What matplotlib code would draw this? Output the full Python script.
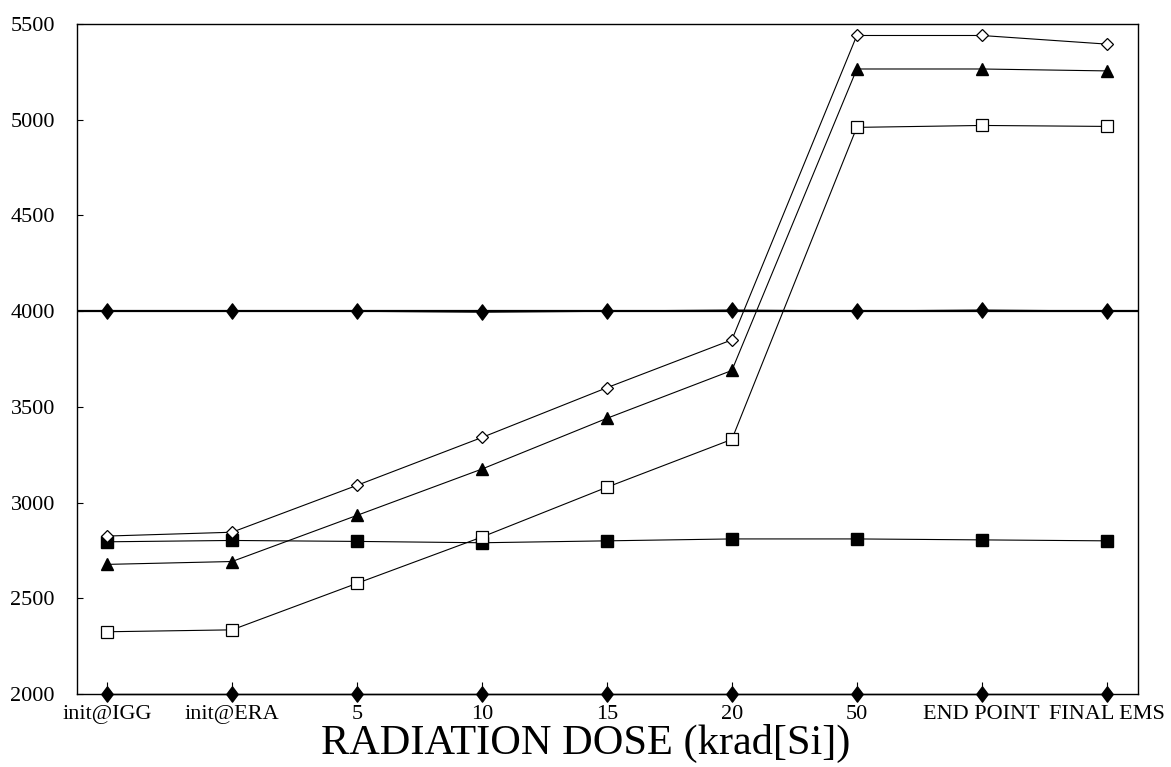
import matplotlib
matplotlib.use("Agg")
import matplotlib.pyplot as plt

categories = ["init@IGG", "init@ERA", "5", "10", "15", "20", "50", "END POINT", "FINAL EMS"]

open_diamond = [2825, 2845, 3090, 3340, 3600, 3850, 5440, 5440, 5395]
filled_triangle = [2677, 2692, 2933, 3175, 3440, 3690, 5265, 5265, 5255]
open_square = [2325, 2335, 2578, 2820, 3080, 3330, 4960, 4970, 4965]
filled_square = [2795, 2802, 2797, 2790, 2800, 2810, 2810, 2805, 2800]
upper_limit = [4000, 4000, 4000, 3995, 4000, 4005, 4000, 4005, 4000]
lower_limit = [2000, 2000, 2000, 2000, 2000, 2000, 2000, 2000, 2000]

y_ticks = [2000, 2500, 3000, 3500, 4000, 4500, 5000, 5500]

plt.rcParams['font.family'] = ['Liberation Serif', 'DejaVu Serif']

fig = plt.figure(figsize=(11.71, 7.67), dpi=100)
ax = fig.add_axes([0.0658, 0.0952, 0.906, 0.8735])

x = list(range(len(categories)))
tall_diamond = [(-0.75, 0), (0, 1), (0.75, 0), (0, -1), (-0.75, 0)]

ax.axhline(upper_limit[0], color='black', lw=1.6, zorder=2)
ax.plot(x, upper_limit, color='black', lw=1.0, marker=tall_diamond, ms=11,
        mfc='black', mec='black', zorder=3, clip_on=False)
ax.plot(x, lower_limit, color='black', lw=1.0, marker=tall_diamond, ms=11,
        mfc='black', mec='black', zorder=3, clip_on=False)
ax.plot(x, filled_square, color='black', lw=0.8, marker='s', ms=8,
        mfc='black', mec='black', zorder=3)
ax.plot(x, open_square, color='black', lw=0.8, marker='s', ms=8.5,
        mfc='white', mec='black', mew=0.9, zorder=4)
ax.plot(x, filled_triangle, color='black', lw=0.8, marker='^', ms=9,
        mfc='black', mec='black', zorder=4)
ax.plot(x, open_diamond, color='black', lw=0.8, marker='D', ms=6,
        mfc='white', mec='black', mew=0.9, zorder=4)

ax.set_xlim(-0.24, 8.25)
ax.set_ylim(2000, 5500)
ax.set_yticks(y_ticks)
ax.set_yticklabels([str(v) for v in y_ticks], fontsize=16)
ax.set_xticks(x)
ax.set_xticklabels(categories, fontsize=16)
ax.tick_params(axis='x', direction='in', length=9, width=0.8, pad=8)
ax.tick_params(axis='y', direction='in', length=4, width=0.8, pad=16)
for s in ax.spines.values():
    s.set_linewidth(1.0)

ax.set_xlabel("RADIATION DOSE (krad[Si])", fontsize=30.5, labelpad=0)
ax.xaxis.label.set_x(0.479)

fig.savefig("out.png", dpi=100)
